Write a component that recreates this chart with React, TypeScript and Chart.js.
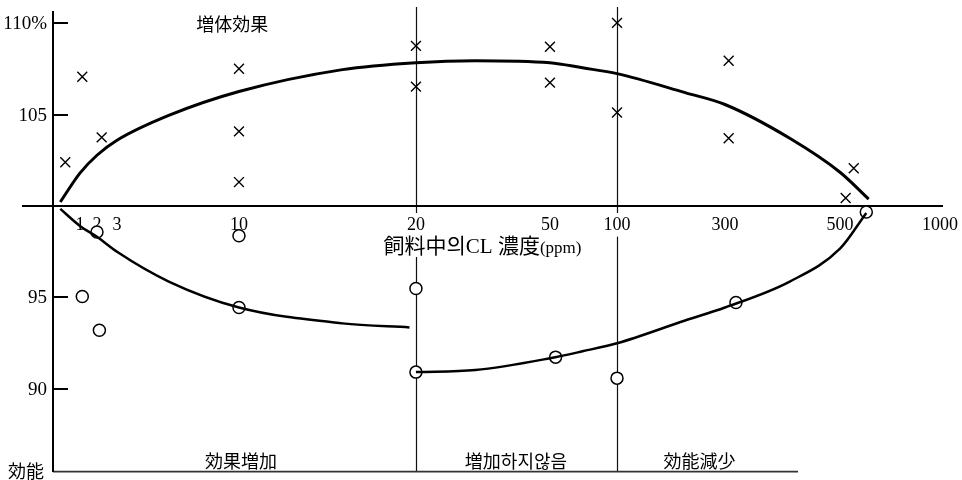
import React, { useEffect, useRef } from 'react';
import { Chart, registerables } from 'chart.js';

Chart.register(...registerables);

// ---- Axis calibration (hand-drawn, non-uniform concentration axis) ----
const xTickConc = [1, 2, 3, 10, 20, 50, 100, 300, 500, 1000];
const xTickLabels = ['1', '2', '3', '10', '20', '50', '100', '300', '500', '1000'];
const xTickPos = [3.04, 4.96, 7.22, 20.97, 40.92, 56.03, 63.59, 75.76, 88.73, 100];
const yTickValues = [90, 95, 105, 110];
const yTickLabels = ['90', '95', '105', '110%'];

// ---- Data: concentration (ppm) and response (%) ----
const crossConc = [0.55, 1.1, 2.2, 10, 10, 10, 20, 20, 50, 50, 100, 100, 305, 305, 550, 520];
const crossValue = [102.4, 107.08, 103.76, 107.52, 104.09, 101.31, 108.77, 106.54, 108.72, 106.76, 110.03, 105.12, 107.96, 103.71, 102.07, 100.44];

const circleConc = [2, 10, 1.1, 2.1, 10, 20, 20, 53, 100, 315, 600];
const circleValue = [98.58, 98.37, 95.04, 93.19, 94.44, 95.48, 90.9, 91.72, 90.57, 94.71, 99.67];

const upperConc = [0.45, 1, 2, 3, 5, 10, 15, 20, 30, 50, 70, 100, 200, 300, 400, 500, 610];
const upperValue = [100.22, 101.8, 102.78, 103.6, 104.96, 106.27, 107.47, 107.85, 107.96, 107.85, 107.57, 107.25, 106.21, 105.56, 103.71, 101.85, 100.38];

const lowerLeftConc = [0.45, 1, 2, 3, 5, 10, 15, 19.5];
const lowerLeftValue = [99.84, 98.91, 98.31, 97.49, 95.86, 94.44, 93.57, 93.35];

const lowerRightConc = [20, 30, 50, 70, 100, 200, 300, 400, 500, 600];
const lowerRightValue = [90.9, 91.01, 91.66, 92.04, 92.48, 93.73, 94.44, 95.86, 97.66, 99.62];

const boundaryConc = [20, 100];

const axisTitleParts = [
  { text: '飼料中의', font: '21px "Noto Sans CJK KR"' },
  { text: 'CL', font: '21px "Liberation Serif"' },
  { text: ' ', font: '21px "Liberation Serif"' },
  { text: '濃度', font: '21px "Noto Sans CJK KR"' },
  { text: '(ppm)', font: '17px "Liberation Serif"' },
];

const noteTexts = ['増体効果', '効果増加', '増加하지않음', '効能減少', '効能'];
const notePos = [20.2, 21.2, 52.2, 72.9, -3.04];
const noteValue = [109.97, 86.0, 86.0, 86.0, 85.5];

function toPos(c: number): number {
  let i = 0;
  while (i < xTickConc.length - 2 && c > xTickConc[i + 1]) i++;
  const l0 = Math.log10(xTickConc[i]);
  const l1 = Math.log10(xTickConc[i + 1]);
  return xTickPos[i] + ((Math.log10(c) - l0) / (l1 - l0)) * (xTickPos[i + 1] - xTickPos[i]);
}

const pts = (cs: number[], vs: number[]) => cs.map((c, i) => ({ x: toPos(c), y: vs[i] }));

const decor = {
  id: 'decor',
  beforeDraw(chart: any) {
    const { ctx, chartArea, scales } = chart;
    const x = scales.x;
    ctx.save();
    ctx.strokeStyle = '#111';
    ctx.lineWidth = 1.2;
    boundaryConc.forEach((c) => {
      const px = Math.round(x.getPixelForValue(toPos(c))) + 0.5;
      ctx.beginPath();
      ctx.moveTo(px, chartArea.top - 5);
      ctx.lineTo(px, chartArea.bottom);
      ctx.stroke();
    });
    // bottom frame line
    ctx.strokeStyle = '#333';
    ctx.lineWidth = 1.6;
    ctx.beginPath();
    ctx.moveTo(x.getPixelForValue(0), chartArea.bottom);
    ctx.lineTo(x.getPixelForValue(84), chartArea.bottom);
    ctx.stroke();
    ctx.restore();
  },
  afterDraw(chart: any) {
    const { ctx, chartArea, scales } = chart;
    const x = scales.x;
    const y = scales.y;
    ctx.save();
    ctx.fillStyle = '#000';
    // y ticks: marks pointing into the plot, labels left of the axis
    const axisX = x.getPixelForValue(0);
    ctx.strokeStyle = '#000';
    ctx.lineWidth = 2;
    ctx.textAlign = 'right';
    ctx.textBaseline = 'middle';
    ctx.font = '19px "Liberation Serif"';
    y.ticks.forEach((t: any) => {
      const i = yTickValues.indexOf(t.value);
      if (i < 0) return;
      const py = Math.round(y.getPixelForValue(t.value));
      ctx.beginPath();
      ctx.moveTo(axisX, py);
      ctx.lineTo(axisX + 15, py);
      ctx.stroke();
      ctx.fillText(yTickLabels[i], axisX - 6, py + 1);
    });
    // axis title
    ctx.textBaseline = 'alphabetic';
    let total = 0;
    const widths = axisTitleParts.map((p) => {
      ctx.font = p.font;
      const w = ctx.measureText(p.text).width;
      total += w;
      return w;
    });
    const cx = (chartArea.left + chartArea.right) / 2;
    const cy = y.getPixelForValue(100) + 39;
    let tx = cx - total / 2;
    ctx.fillStyle = '#fff';
    ctx.fillRect(tx - 2, cy - 12, total + 4, 24);
    ctx.fillStyle = '#000';
    ctx.textAlign = 'left';
    axisTitleParts.forEach((p, i) => {
      ctx.font = p.font;
      ctx.fillText(p.text, tx, cy + 8);
      tx += widths[i];
    });
    // annotations
    ctx.textAlign = 'center';
    ctx.textBaseline = 'middle';
    ctx.font = '18px "Noto Sans CJK KR"';
    noteTexts.forEach((t, i) => {
      ctx.fillText(t, x.getPixelForValue(notePos[i]), y.getPixelForValue(noteValue[i]));
    });
    ctx.restore();
  },
};

export default function App() {
  const ref = useRef<HTMLCanvasElement | null>(null);
  useEffect(() => {
    document.body.style.margin = '0';
    const canvas = ref.current;
    if (!canvas) return;
    const chart = new Chart(canvas, {
      type: 'scatter',
      data: {
        datasets: [
          {
            data: pts(upperConc, upperValue),
            showLine: true,
            borderColor: '#000',
            borderWidth: 3,
            pointRadius: 0,
            cubicInterpolationMode: 'monotone',
          },
          {
            data: pts(lowerLeftConc, lowerLeftValue),
            showLine: true,
            borderColor: '#000',
            borderWidth: 2.5,
            pointRadius: 0,
            cubicInterpolationMode: 'monotone',
          },
          {
            data: pts(lowerRightConc, lowerRightValue),
            showLine: true,
            borderColor: '#000',
            borderWidth: 2.5,
            pointRadius: 0,
            cubicInterpolationMode: 'monotone',
          },
          {
            data: pts(crossConc, crossValue),
            showLine: false,
            pointStyle: 'crossRot',
            pointRadius: 7,
            borderColor: '#000',
            borderWidth: 1.4,
          },
          {
            data: pts(circleConc, circleValue),
            showLine: false,
            pointStyle: 'circle',
            pointRadius: 6,
            backgroundColor: '#fff',
            borderColor: '#000',
            borderWidth: 1.5,
          },
        ],
      } as any,
      options: {
        animation: false,
        responsive: false,
        devicePixelRatio: 1,
        layout: { padding: { left: 23, right: 20, top: 12, bottom: 6 } },
        plugins: { legend: { display: false }, tooltip: { enabled: false } },
        scales: {
          x: {
            type: 'linear',
            min: -3.38,
            max: 100.23,
            position: { y: 100 } as any,
            grid: { display: false, drawTicks: false },
            border: { display: true, color: '#000', width: 2 },
            afterBuildTicks: (s: any) => {
              s.ticks = xTickPos.map((v) => ({ value: v }));
            },
            afterFit: (s: any) => {
              s.height = 0;
              s.paddingLeft = 0;
              s.paddingRight = 0;
              s.paddingTop = 0;
              s.paddingBottom = 0;
            },
            ticks: {
              autoSkip: false,
              maxRotation: 0,
              padding: 8,
              color: '#000',
              font: { family: '"Liberation Serif"', size: 18 },
              showLabelBackdrop: true,
              backdropColor: '#fff',
              backdropPadding: 1,
              callback: (v: any) => {
                const i = xTickPos.findIndex((p) => Math.abs(p - Number(v)) < 1e-6);
                return i >= 0 ? xTickLabels[i] : '';
              },
            },
          } as any,
          y: {
            type: 'linear',
            min: 85.45,
            max: 110.627,
            position: { x: 0 } as any,
            grid: { display: false, drawTicks: false },
            border: { display: true, color: '#000', width: 2 },
            afterBuildTicks: (s: any) => {
              s.ticks = yTickValues.map((v) => ({ value: v }));
            },
            afterFit: (s: any) => {
              s.width = 0;
              s.paddingLeft = 0;
              s.paddingRight = 0;
              s.paddingTop = 0;
              s.paddingBottom = 0;
            },
            ticks: { display: false },
          } as any,
        },
      },
      plugins: [decor],
    });
    return () => chart.destroy();
  }, []);
  return <canvas ref={ref} width={962} height={480} style={{ display: 'block' }} />;
}
